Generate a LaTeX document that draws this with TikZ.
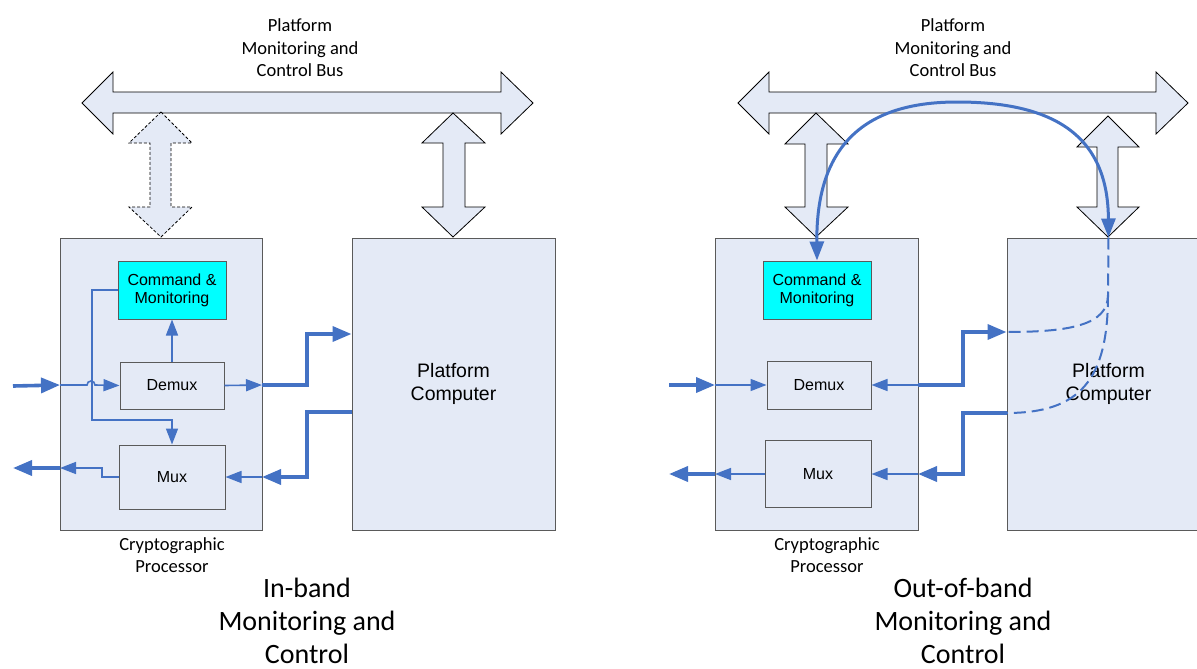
\documentclass[tikz,border=0pt]{standalone}
\usepackage{fontspec}
\setmainfont{Carlito}
\newfontfamily\arialf{Liberation Sans}
\usetikzlibrary{arrows.meta}
\definecolor{lnblue}{HTML}{4472C4}
\definecolor{boxfill}{HTML}{E4EAF6}
\definecolor{boxline}{HTML}{5A5A5A}
\definecolor{cmdcyan}{RGB}{0,255,255}
\begin{document}
\begin{tikzpicture}[x=1pt,y=-1pt,
  bigbox/.style={draw=boxline, fill=boxfill, line width=1pt, minimum width=203pt, minimum height=292pt, inner sep=0pt, align=center, font=\arialf\fontsize{19.5}{23.5}\selectfont},
  smallbox/.style={draw=boxline, fill=boxfill, line width=1pt, inner sep=0pt, align=center, font=\arialf\fontsize{16}{18}\selectfont},
  cmdbox/.style={smallbox, fill=cmdcyan, minimum width=108pt, minimum height=58pt},
  busarrow/.style={draw=black, fill=boxfill, line width=0.8pt, line join=miter},
  busdash/.style={busarrow, dash pattern=on 3pt off 2pt},
  thinarr/.style={draw=lnblue, line width=1.6pt, -{Triangle[length=16pt,width=12pt]}},
  thickarr/.style={draw=lnblue, line width=3.6pt, -{Triangle[length=19pt,width=15pt]}},
  curvearr/.style={draw=lnblue, line width=3pt, {Triangle[length=19pt,width=14pt]}-{Triangle[length=19pt,width=14pt]}},
  dashblue/.style={draw=lnblue, line width=2pt, dash pattern=on 12pt off 6pt},
  lbl/.style={inner sep=0pt, align=center, font=\fontsize{18.5}{22.5}\selectfont},
  ttl/.style={inner sep=0pt, align=center, font=\fontsize{28}{33}\selectfont}]
\useasboundingbox (0,0) rectangle (1197,669);

% ---------------- Left panel ----------------
\node[lbl] (busLlbl) at (300,48) {Platform\\Monitoring and\\Control Bus};
\path[busarrow] (82,103) -- (113,72) -- (113,92) -- (501,92) -- (501,72) -- (533,103) -- (501,134) -- (501,113) -- (113,113) -- (113,134) -- cycle;
\path[busdash] (161,112) -- (192,143) -- (171,143) -- (171,207) -- (192,207) -- (161,237) -- (129,207) -- (150,207) -- (150,143) -- (129,143) -- cycle;
\path[busarrow] (453,113) -- (485,143) -- (465,143) -- (465,207) -- (485,207) -- (453,237) -- (422,207) -- (443,207) -- (443,143) -- (422,143) -- cycle;

\node[bigbox, minimum width=202pt] (cpL) at (161,384) {};
\node[bigbox] (pcL) at (453.5,384) {Platform\\Computer};
\node[cmdbox] (cmL) at (172,290) {Command \&\\Monitoring};
\node[smallbox, minimum width=104pt, minimum height=47pt] (demL) at (172,385.5) {Demux};
\node[smallbox, minimum width=106pt, minimum height=64pt] (muxL) at (172,477) {Mux};

\node[lbl] (cpLlbl) at (172,555) {Cryptographic\\Processor};
\node[ttl] (ttlL) at (307,621) {In-band\\Monitoring and\\Control};

\coordinate (inL) at (13,386);
\coordinate (inLe) at (60,385);
\draw[thickarr] (inL) -- (inLe);
\draw[thinarr] (inLe) -- (87,385) arc (180:360:4) -- (demL.west);
\coordinate (demLo) at (262,385);
\draw[thinarr] (demL.east) -- (demLo);
\draw[thickarr] (demLo) -- (307,385) -- (307,334) -- (pcL.west |- 0,334);
\draw[thinarr] (demL.north) -- (cmL.south);
\draw[thinarr] (cmL.west) -- (92,290) -- (92,420) -- (172,420) -- (muxL.north);
\coordinate (muxLo) at (60,468);
\draw[thinarr] (muxL.west) -- (102,477) -- (102,468) -- (muxLo);
\coordinate (outL) at (13,468);
\draw[thickarr] (muxLo) -- (outL);
\coordinate (muxLi) at (262,477);
\draw[thickarr] (pcL.west |- 0,412) -- (307,412) -- (307,477) -- (muxLi);
\draw[thinarr] (muxLi) -- (muxL.east);

% ---------------- Right panel ----------------
\node[lbl] (busRlbl) at (953,48) {Platform\\Monitoring and\\Control Bus};
\path[busarrow] (738,103) -- (769,72) -- (769,92) -- (1156,92) -- (1156,72) -- (1188,103) -- (1156,134) -- (1156,113) -- (769,113) -- (769,134) -- cycle;
\path[busarrow] (816,113) -- (848,144) -- (827,144) -- (827,207) -- (848,207) -- (816,237) -- (785,207) -- (805,207) -- (805,144) -- (785,144) -- cycle;
\path[busarrow] (1108,116) -- (1139,147) -- (1118,147) -- (1118,207) -- (1139,207) -- (1108,237) -- (1077,207) -- (1097,207) -- (1097,147) -- (1077,147) -- cycle;

\node[bigbox] (cpR) at (816.5,384) {};
\node[bigbox] (pcR) at (1108.5,384) {Platform\\Computer};
\node[cmdbox] (cmR) at (817,290) {Command \&\\Monitoring};
\node[smallbox, minimum width=104pt, minimum height=48pt] (demR) at (819,385) {Demux};
\node[smallbox, minimum width=106pt, minimum height=67pt] (muxR) at (818,474) {Mux};

\node[lbl] (cpRlbl) at (827,555) {Cryptographic\\Processor};
\node[ttl] (ttlR) at (963,621) {Out-of-band\\Monitoring and\\Control};

\coordinate (inR) at (669,385);
\coordinate (inRe) at (715,385);
\draw[thickarr] (inR) -- (inRe);
\draw[thinarr] (inRe) -- (demR.west);
\coordinate (demRo) at (918,385);
\draw[thinarr] (demRo) -- (demR.east);
\draw[thickarr] (demRo) -- (963,385) -- (963,332) -- (pcR.west |- 0,332);
\coordinate (muxRi) at (918,474);
\draw[thickarr] (pcR.west |- 0,413) -- (963,413) -- (963,474) -- (muxRi);
\draw[thinarr] (muxRi) -- (muxR.east);
\coordinate (muxRo) at (715,474);
\draw[thinarr] (muxR.west) -- (muxRo);
\coordinate (outR) at (669,474);
\draw[thickarr] (muxRo) -- (outR);

\coordinate (split) at (1108,295);
\draw[dashblue] (pcR.north) -- (split) .. controls (1108,325) and (1070,332) .. (pcR.west |- 0,332);
\draw[dashblue] (split) .. controls (1108,380) and (1080,413) .. (pcR.west |- 0,413);

\coordinate (top) at (957,102);
\draw[curvearr] (cmR.north) .. controls (816,150) and (860,102) .. (top) .. controls (1060,102) and (1108,140) .. (pcR.north);
\end{tikzpicture}
\end{document}
